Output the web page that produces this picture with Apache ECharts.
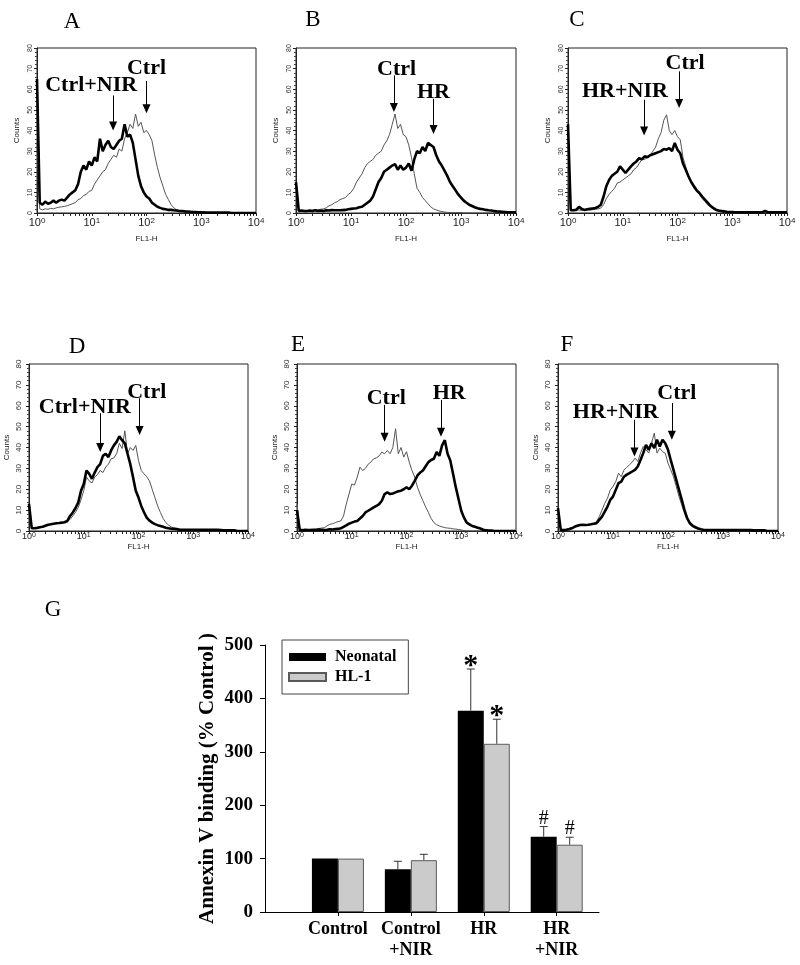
<!DOCTYPE html>
<html><head><meta charset="utf-8">
<script src="https://cdn.jsdelivr.net/npm/echarts@6/dist/echarts.min.js"></script>
<style>html,body{margin:0;padding:0;background:#fff}#c{width:800px;height:965px}</style>
</head><body><div id="c"></div>
<script>
// ---------- histogram data: FL1-H channel position (log10) and counts ----------
const fl1Log = [0,0.05,0.1,0.15,0.2,0.25,0.3,0.35,0.4,0.45,0.5,0.55,0.6,0.65,0.7,0.75,0.8,0.85,0.9,0.95,1,1.05,1.1,1.15,1.2,1.25,1.3,1.35,1.4,1.45,1.5,1.55,1.6,1.65,1.7,1.75,1.8,1.85,1.9,1.95,2,2.05,2.1,2.15,2.2,2.25,2.3,2.35,2.4,2.45,2.5,2.55,2.6,2.65,2.7,2.75,2.8,2.85,2.9,2.95,3,3.05,3.1,3.15,3.2,3.25,3.3,3.35,3.4,3.45,3.5,3.55,3.6,3.65,3.7,3.75,3.8,3.85,3.9,3.95,4];

const aCtrl = [34,2,1.5,2,1.8,2.2,2,2.5,2.8,3, 3.2,3.5,4,4.5,5,6.5,7,8.5,9,10.5, 11,14,16,18,20,21,24,26,28,27, 31,30,36,39,43,41,48,42,44,39, 40,38,35,28,22,17,13,9,6.5,4, 2.5,1.5,1.2,0.8,0.6,0.5,0.4,0.3,0.3,0.2, 0.3,0.8,0.2,0,0,0,0,0,0,0, 0,0,0,0,0,0,0,0,0,0,0];
const aTrt = [65,5,4,5.5,4.5,5,6,5,6,6.5, 6,7.5,9,10,11,14,20,23,21,25, 23,27,25,36,30,33,35,32,31,33, 35,36,43,37,38,34,26,18,13,10, 8,7,5,4,3,2.5,2,1.8,1.5,1.5, 1.3,1.2,1,1,0.8,0.7,0.6,0.5,0.5,0.4, 0.3,0.2,0.2,0.2,0.2,0.2,0.2,0.2,0.2,0.2, 0.2,0,0,0,0,0,0,0,0,0,0];
const bCtrl = [15,1,0.8,1,1.2,1,1.3,1.5,1.5,1.8, 2,2.5,3.5,4,5,5.5,6.5,7,7.5,9, 10,12,15,17,19,22,24,25,26,28, 29,30,33,35,38,43,48,41,43,38, 37,33,27,19,12,10,7.5,6,4.5,3, 2,1.5,1,0.7,0.5,0.3,0.2,0.2,0.2,0.2, 0.2,0,0,0,0,0,0,0,0,0, 0,0,0,0,0,0,0,0,0,0,0];
const bTrt = [15,1,1.2,1,1,1.2,1,1.3,1,1.2, 1,1.3,1.2,1.4,1.3,1.3,1.3,1.4,1.5,1.8, 2,2.2,2.3,2.8,3,4,5,6,8,11.5, 15,17,20,21,22,23,23.7,21,23,21, 22,24,20.5,26,30,29,32,30,34,33, 32,28,25,23,20.5,18,15,13,11,9, 7.5,6,5,4,3.4,2.8,2.3,2,1.8,1.5, 1.3,1.2,1,0.8,0.7,0.6,0.5,0.4,0.4,0.4,0.4];
const cCtrl = [22,1.3,1.3,1.3,1.5,1.2,1.3,1.5,1.4,1.6, 1.8,2,2.4,4,7,9,10.5,12,14.5,15, 16,17,18,19,21,22,24,26,26,27, 28,30,32,36,39,45,47.6,40,38,40, 37,35.5,27,22.6,17.8,15,12,10.5,9,7, 5.6,4,3,2,1.3,0.8,0.5,0.5,0.5,0.5, 0.5,0.3,0.3,0.3,0.3,0.3,0.3,0.3,0.3,0.3, 0.3,0.3,0.3,0.3,0.3,0.3,0.3,0.3,0.3,0.3,0.3];
const cTrt = [43,1.3,1.3,1.5,3,2,1.5,1.8,2,2.2, 2.4,3,4,8,13,16,18,19,20,22.6, 21,19.4,21,22.6,24,25,26.6,26,27.5,27, 28,28.5,29,29.5,30,31,30.7,31.5,30,34, 30.7,29,24,21,17.8,15,13,11,9.7,8, 6.5,5,3.5,2.5,1.6,1.2,1,0.8,0.6,0.5, 0.5,0.4,0.4,0.4,0.4,0.4,0.4,0.4,0.4,0.4, 0.4,0.4,1,0.4,0.4,0.4,0.4,0.4,0.4,0.4,0.4];
const dCtrl = [13,1.3,1.3,1.5,1.8,2,2.5,3,3.2,3.3, 3.5,3.8,4,4.5,4.8,5.5,7.2,9,11.3,15, 19.3,25.8,24,23,25.8,27,29,28,30.6,32, 34.6,35,37,42,39.5,48,37,40,38.6,41, 33.8,29,27.4,26,24,20,16,12,8.9,6, 4,2.8,1.9,1.4,1.1,0.8,0.7,0.6,0.6,0.6, 0.6,0.6,0.6,0.6,0.6,0.6,0.6,0.6,0.6,0.6, 0.4,0.3,0.3,0.3,0.3,0.3,0,0,0,0,0];
const dTrt = [13,1.3,1.3,1.5,1.8,2,2.5,3,3.2,3.5, 3.7,3.8,4,4.2,4.8,7.2,8.9,11,13.7,19.3, 22.5,29,27.4,25,28,30.6,32,36,37,35.4, 38.6,41,42.7,45.4,43.5,42,37,32,25.8,19.3, 16,12,9,6.4,5,4,3.3,2.8,2.4,2, 1.6,1.3,1.1,1,0.9,0.6,0.6,0.6,0.6,0.6, 0.6,0.6,0.6,0.6,0.6,0.6,0.6,0.6,0.6,0.6, 0.5,0.3,0.3,0.3,0.3,0.3,0,0,0,0,0];
const eCtrl = [13,0.5,0.5,0.6,0.5,0.8,0.7,1,1.2,1.4, 1.6,2.5,3.2,3.5,4,4.5,4.8,7.2,12.9,17.7, 22.5,22,25.8,30.6,29,30,32,33,34.6,35, 36,37.8,37,38.6,37,40,49,37,40,35.4, 38,33,29,25.8,21,17.5,14.5,11.5,8.9,6, 4,3,2.4,2,1.6,1.4,1.3,1,0.9,0.7, 0.5,0.2,0,0,0,0,0,0,0,0, 0,0,0,0,0,0,0,0,0,0,0];
const eTrt = [10,0.5,0.4,0.6,0.5,0.5,0.6,0.5,0.7,0.6, 0.5,0.6,0.8,0.7,0.9,1,1.3,2,2.7,3.5, 4,4.5,4.8,6,7.2,8.9,9.7,10.5,11.3,12, 12.9,14.5,17.7,18.5,17.7,18,18.5,19,19.3,20, 21,20,21.7,24,26.6,28,29,31,33,34, 34.6,37.8,36,41,43.5,37,33.8,27.4,21,15.3, 9.7,6.4,4,3.2,2.4,2,1.6,1.2,0.6,0.4, 0.2,0.2,0,0,0,0,0,0,0,0,0];
const fCtrl = [11,0.5,0.6,0.8,1.2,1.6,2,2.6,3.2,3, 2.9,3,3.1,3.5,4.5,6.9,10,13.3,15.7,19.7, 21.3,23.7,27.7,26,29.3,30.5,31.7,33,34.9,33.3, 37.3,40.5,38.9,37.3,42,46.9,37.3,39.7,38,37.3, 32.5,29.3,26,21.3,16.5,12.5,8.5,5.3,2.9,2, 1.3,0.9,0.5,0.5,0.5,0.5,0.5,0.5,0.5,0.5, 0.5,0.5,0.5,0.5,0.5,0.5,0.5,0.5,0.5,0.5, 0.4,0.3,0.3,0.3,0.3,0,0,0,0,0,0];
const fTrt = [11,0.5,0.5,0.6,0.8,1.3,2,2.5,2.9,3, 2.9,3,3.2,3.5,3.7,5.3,6.9,9.3,11.7,14.9, 16.5,19.7,22.9,23.7,26,27,27.7,28.5,29.3,30.9, 34,37.3,41.3,38.9,42,39.7,43.7,40.5,43.7,42, 38.9,34,29.3,24.5,19.7,14.9,10,6,3.7,2.5, 1.8,1.2,0.8,0.5,0.5,0.5,0.5,0.5,0.5,0.5, 0.5,0.5,0.5,0.5,0.5,0.5,0.5,0.5,0.5,0.5, 0.4,0.3,0.3,0.3,0.3,0.3,0,0,0,0,0];

const panelLetters = ['A','B','C','D','E','F'];
const ctrlSeries = [aCtrl,bCtrl,cCtrl,dCtrl,eCtrl,fCtrl];
const trtSeries = [aTrt,bTrt,cTrt,dTrt,eTrt,fTrt];
const ctrlName = 'Ctrl';
const trtNames = ['Ctrl+NIR','HR','HR+NIR','Ctrl+NIR','HR','HR+NIR'];

// annotation anchors in data units (log10 FL1-H, counts)
const trtLabelX = [0.99,2.50,1.04,1.02,2.78,1.05];
const trtLabelY = [62,58.7,58.8,59.4,66.1,57];
const trtArrowX = [1.39,2.50,1.39,1.30,2.63,1.39];
const trtArrowFrom = [57,55.4,54.9,56.4,62.8,53.3];
const trtArrowTo = [40,38.3,37.5,37.8,45.1,35.7];
const ctrlLabelX = [2.0,1.83,2.14,2.15,1.63,2.16];
const ctrlLabelY = [70.3,69.8,72.5,66.6,63.4,65.9];
const ctrlArrowX = [2.0,1.78,2.03,2.02,1.60,2.07];
const ctrlArrowFrom = [64,66.7,68.7,63.6,60.4,61.3];
const ctrlArrowTo = [48.4,48.9,50.9,45.9,42.7,43.7];

const decadeExponents = [0,1,2,3,4];
const minorFactors = [2,3,4,5,6,7,8,9];
const countMax = 80;

// ---------- bar chart data ----------
const barCategories = ['Control','Control\n+NIR','HR','HR\n+NIR'];
const barPositions = [1,2,3,4];
const neonatal = [100,80,377,141];
const neonatalErr = [0,15,78,19];
const hl1 = [100,97,315,126];
const hl1Err = [0,11,46,14];
const neonatalMarks = ['','','*','#'];
const hl1Marks = ['','','*','#'];

// ---------- layout ----------
const SERIF = "'Liberation Serif','Times New Roman',serif";
const SANS = "'Liberation Sans',Arial,sans-serif";
const histGrids = [
  {left:37, top:48, width:219, height:165},
  {left:296, top:48, width:220, height:165},
  {left:568, top:48, width:219, height:165},
  {left:29, top:364, width:219, height:167},
  {left:297, top:364, width:219, height:167},
  {left:558, top:364, width:220, height:167}
];
const letterPos = [[72,22],[313,20],[577,20],[77,347],[298,345],[567,345],[53,610]];

const allLogTicks = [];
decadeExponents.forEach(n => {
  allLogTicks.push(n);
  if (n < 4) minorFactors.forEach(f => allLogTicks.push(n + Math.log10(f)));
});

const grid = [], xAxis = [], yAxis = [], series = [];
const arrowHead = 2.2; // counts, half the arrow-head height

histGrids.forEach((g, i) => {
  const top = i < 3;
  grid.push(Object.assign({show:true, borderColor:'#222', borderWidth:1, containLabel:false}, g));
  xAxis.push({
    type:'value', gridIndex:i, min:0, max:4, interval:1,
    axisLine:{show:true, onZero:false, lineStyle:{color:'#222', width:1}},
    axisTick:{show:true, length:3, customValues:allLogTicks, lineStyle:{color:'#222', width:1}},
    axisLabel:{customValues:decadeExponents, margin: top?4:1,
      formatter: v => '{b|10}{s|' + v + '}',
      rich:{b:{fontSize: top?11:9, fontFamily:SANS, color:'#222'},
            s:{fontSize: top?8:7, fontFamily:SANS, color:'#222', verticalAlign:'top'}}},
    splitLine:{show:false},
    name:'FL1-H', nameLocation:'middle', nameGap: top?22:12,
    nameTextStyle:{fontSize:8, fontFamily:SANS, color:'#222'}
  });
  yAxis.push({
    type:'value', gridIndex:i, min:0, max:countMax, interval:10,
    axisLine:{show:true, lineStyle:{color:'#222', width:1}},
    axisTick:{show:true, length:3, lineStyle:{color:'#222'}},
    minorTick:{show:true, splitNumber:5, length:2, lineStyle:{color:'#444'}},
    axisLabel:{rotate:90, fontSize: top?7:8, margin: top?3:6, color:'#333', fontFamily:SANS},
    splitLine:{show:false},
    name:'Counts', nameLocation:'middle', nameRotate:90, nameGap: top?16:18,
    nameTextStyle:{fontSize:8, fontFamily:SANS, color:'#222'}
  });
  series.push({
    type:'line', xAxisIndex:i, yAxisIndex:i, symbol:'none', animation:false, z:2,
    data: fl1Log.map((x, k) => [x, ctrlSeries[i][k]]),
    lineStyle:{color:'#555', width:1}
  });
  series.push({
    type:'line', xAxisIndex:i, yAxisIndex:i, symbol:'none', animation:false, z:3,
    data: fl1Log.map((x, k) => [x, trtSeries[i][k]]),
    lineStyle:{color:'#000', width:2.6}
  });
  series.push({
    type:'scatter', xAxisIndex:i, yAxisIndex:i, animation:false, z:4, silent:true,
    symbolSize:0.1, itemStyle:{color:'rgba(0,0,0,0)'},
    data:[[trtLabelX[i], trtLabelY[i], trtNames[i]], [ctrlLabelX[i], ctrlLabelY[i], ctrlName]],
    label:{show:true, position:'inside', formatter: p => p.data[2],
      fontFamily:SERIF, fontWeight:'bold', fontSize:22, color:'#000',
      textBorderWidth:0, textBorderColor:'transparent', opacity:1},
    markLine:{silent:true, animation:false, symbol:['none','triangle'], symbolSize:[8,9],
      lineStyle:{color:'#000', width:1, type:'solid'}, label:{show:false},
      data:[
        [{coord:[trtArrowX[i], trtArrowFrom[i]]}, {coord:[trtArrowX[i], trtArrowTo[i] + arrowHead]}],
        [{coord:[ctrlArrowX[i], ctrlArrowFrom[i]]}, {coord:[ctrlArrowX[i], ctrlArrowTo[i] + arrowHead]}]
      ]}
  });
});

// bar chart grid
const BI = 6;
const barWidth = 26;
grid.push({left:265, top:645, width:334, height:267, show:false});
xAxis.push({
  type:'value', gridIndex:BI, min:0, max:4.58,
  axisLine:{show:true, onZero:false, lineStyle:{color:'#000', width:1}},
  axisTick:{show:true, length:4, customValues:barPositions, lineStyle:{color:'#000'}},
  axisLabel:{customValues:barPositions, margin:7, lineHeight:21,
    formatter: v => { const k = barPositions.indexOf(v); return k >= 0 ? barCategories[k] : ''; },
    fontFamily:SERIF, fontWeight:'bold', fontSize:18, color:'#000'},
  splitLine:{show:false}
});
yAxis.push({
  type:'value', gridIndex:BI, min:0, max:500, interval:100,
  axisLine:{show:true, lineStyle:{color:'#000', width:1}},
  axisTick:{show:true, length:5, lineStyle:{color:'#000'}},
  axisLabel:{margin:12, fontFamily:SERIF, fontWeight:'bold', fontSize:19, color:'#000'},
  splitLine:{show:false},
  name:'Annexin V binding (% Control )', nameLocation:'middle', nameRotate:90, nameGap:47,
  nameTextStyle:{fontFamily:SERIF, fontWeight:'bold', fontSize:21, color:'#000'}
});
series.push({
  name:'Neonatal', type:'bar', xAxisIndex:BI, yAxisIndex:BI, animation:false,
  barWidth:barWidth, barGap:'0%',
  data: barPositions.map((p, k) => [p, neonatal[k]]),
  itemStyle:{color:'#000', borderColor:'#000', borderWidth:0}
});
series.push({
  name:'HL-1', type:'bar', xAxisIndex:BI, yAxisIndex:BI, animation:false,
  barWidth:barWidth, barGap:'0%',
  data: barPositions.map((p, k) => [p, hl1[k]]),
  itemStyle:{color:'#cbcbcb', borderColor:'#5a5a5a', borderWidth:1}
});
function errRender(offset, marks) {
  return function (params, api) {
    const x = api.value(0), v = api.value(1), e = api.value(2);
    const b = api.coord([x, v]);
    const t = api.coord([x, v + e]);
    const cx = b[0] + offset;
    const children = [];
    if (e > 0) {
      children.push({type:'line', shape:{x1:cx, y1:b[1], x2:cx, y2:t[1]}, style:{stroke:'#333', lineWidth:1}});
      children.push({type:'line', shape:{x1:cx-4, y1:t[1], x2:cx+4, y2:t[1]}, style:{stroke:'#333', lineWidth:1}});
    }
    const m = marks[params.dataIndex];
    if (m) {
      const star = m === '*';
      children.push({type:'text', x:cx, y:t[1] - (star ? 3 : 8), style:{
        text:m, fill:'#000', align:'center', verticalAlign:'middle',
        fontFamily:SERIF, fontWeight: star ? 'bold' : 'normal', fontSize: star ? 30 : 20}});
    }
    return {type:'group', children};
  };
}
series.push({
  type:'custom', xAxisIndex:BI, yAxisIndex:BI, animation:false, z:5, silent:true,
  data: barPositions.map((p, k) => [p, neonatal[k], neonatalErr[k]]),
  encode:{x:0, y:1},
  renderItem: errRender(-barWidth/2, neonatalMarks)
});
series.push({
  type:'custom', xAxisIndex:BI, yAxisIndex:BI, animation:false, z:5, silent:true,
  data: barPositions.map((p, k) => [p, hl1[k], hl1Err[k]]),
  encode:{x:0, y:1},
  renderItem: errRender(barWidth/2, hl1Marks)
});

const letters = panelLetters.concat(['G']);
const graphic = letters.map((L, i) => ({
  type:'text', x:letterPos[i][0], y:letterPos[i][1],
  style:{text:L, fill:'#000', fontFamily:SERIF, fontSize:23, align:'center', verticalAlign:'middle'}
}));

const option = {
  animation:false,
  backgroundColor:'#fff',
  grid, xAxis, yAxis, series, graphic,
  legend:{
    data:['Neonatal','HL-1'], orient:'vertical', left:282, top:640,
    itemWidth:37, itemHeight:8, itemGap:4, padding:[9,12,9,6], icon:'rect',
    borderColor:'#444', borderWidth:1, selectedMode:false,
    textStyle:{fontFamily:SERIF, fontWeight:'bold', fontSize:16, color:'#000', lineHeight:16, padding:[0,0,0,4]}
  }
};
const chart = echarts.init(document.getElementById('c'), null, {renderer:'canvas'});
chart.setOption(option);
</script>
</body></html>
